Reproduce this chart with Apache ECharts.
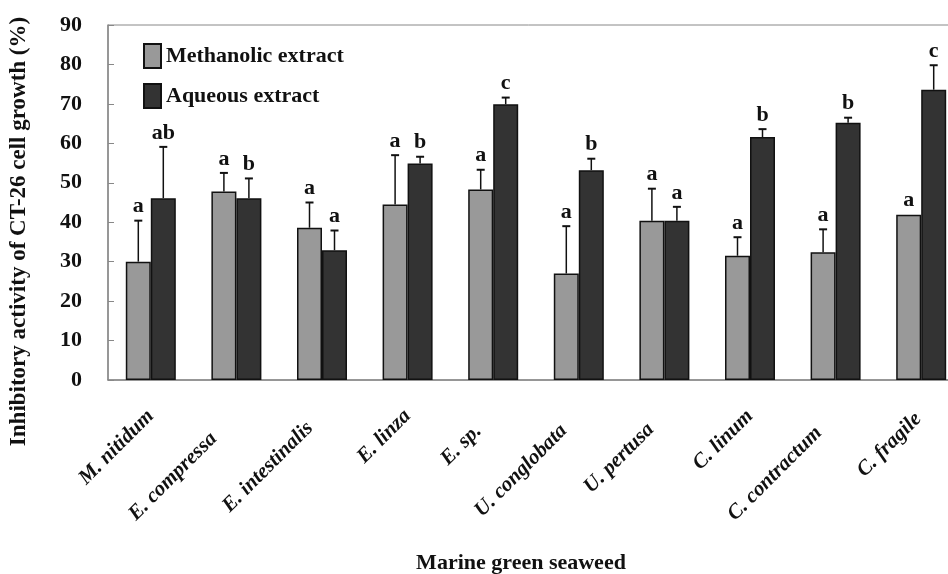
<!DOCTYPE html>
<html>
<head>
<meta charset="utf-8">
<script src="https://cdn.jsdelivr.net/npm/echarts@6/dist/echarts.min.js"></script>
<style>
  html, body { margin: 0; padding: 0; background: #fff; }
  #chart { width: 948px; height: 574px; }
</style>
</head>
<body>
<div id="chart"></div>
<script>
// seaweed species on the x axis
const categories = ["M. nitidum", "E. compressa", "E. intestinalis", "E. linza", "E. sp.",
    "U. conglobata", "U. pertusa", "C. linum", "C. contractum", "C. fragile"];
// inhibitory activity (%) and upper error bars
const methanolic = [30.0, 47.8, 38.6, 44.5, 48.3, 27.0, 40.4, 31.5, 32.4, 41.9];
const methanolicErr = [10.4, 4.7, 6.4, 12.5, 5.0, 12.0, 8.1, 4.7, 5.8, 0];
const aqueous = [46.1, 46.1, 32.9, 54.9, 69.9, 53.2, 40.4, 61.6, 65.2, 73.6];
const aqueousErr = [13.0, 5.0, 5.0, 1.7, 1.7, 2.9, 3.5, 2.0, 1.3, 6.2];
// significance letters
const methanolicLetters = ["a", "a", "a", "a", "a", "a", "a", "a", "a", "a"];
const aqueousLetters = ["ab", "b", "a", "b", "c", "b", "a", "b", "b", "c"];
const yTicks = [0, 10, 20, 30, 40, 50, 60, 70, 80, 90];

// label stagger: [shift along text, shift across text]
const labelShift = [[0, 4], [32, 18], [17, 18], [0, 0], [21, 4], [21, 14], [19, 12], [0, 0], [24, 16], [4, 0]];

const serif = "'Liberation Serif', 'Times New Roman', serif";
const barW = 25;
const color = ["#999999", "#333333"];

function errorSeries(name, values, errs, letters, side) {
    return {
        type: "custom",
        name: name + " err",
        z: 5,
        data: values.map((v, i) => [i, v, errs[i]]),
        renderItem: function(params, api) {
            const i = api.value(0), v = api.value(1), e = api.value(2);
            const base = api.coord([i, v]);
            const top = api.coord([i, v + e]);
            const x = base[0] + side * barW / 2;
            const children = [];
            if (e > 0) {
                children.push({ type: "line", shape: { x1: x, y1: base[1], x2: x, y2: top[1] },
                    style: { stroke: "#111", lineWidth: 1.5 } });
                children.push({ type: "line", shape: { x1: x - 4, y1: top[1], x2: x + 4, y2: top[1] },
                    style: { stroke: "#111", lineWidth: 2 } });
            }
            children.push({ type: "text", x: x, y: top[1] - 3,
                style: { text: letters[params.dataIndex], fill: "#111", font: "bold 22px " + serif,
                    align: "center", verticalAlign: "bottom" } });
            return { type: "group", children: children };
        }
    };
}

let chart = echarts.init(document.getElementById("chart"));
let options = {
    animation: false,
    color: color,
    textStyle: { fontFamily: serif },
    legend: {
        data: ["Methanolic extract", "Aqueous extract"],
        orient: "vertical",
        left: 143,
        top: 43,
        padding: 0,
        icon: "rect",
        itemWidth: 17,
        itemHeight: 24,
        itemGap: 14,
        textStyle: { fontSize: 22, fontWeight: "bold", color: "#111", fontFamily: serif }
    },
    grid: {
        left: 108,
        right: -16,
        top: 25,
        bottom: 194,
        outerBoundsMode: "none",
        containLabel: false,
        show: true,
        borderColor: "#888",
        borderWidth: 1
    },
    xAxis: {
        type: "category",
        data: categories.map((c, i) => ({
            value: c,
            textStyle: { padding: [2 * labelShift[i][1], labelShift[i][0], 0, 0] }
        })),
        name: "Marine green seaweed",
        nameLocation: "middle",
        nameGap: 172,
        nameTextStyle: { fontSize: 22, fontWeight: "bold", color: "#111", fontFamily: serif, padding: [0, 30, 0, 0] },
        axisLine: { lineStyle: { color: "#888", width: 1.5 } },
        axisTick: { inside: true, length: 8, lineStyle: { color: "#888" } },
        axisLabel: {
            interval: 0,
            rotate: 45,
            margin: 33,
            fontSize: 21,
            fontWeight: "bold",
            fontStyle: "italic",
            color: "#111",
            fontFamily: serif
        }
    },
    yAxis: {
        type: "value",
        min: yTicks[0],
        max: yTicks[yTicks.length - 1],
        interval: 10,
        name: "Inhibitory activity of CT-26 cell growth (%)",
        nameLocation: "middle",
        nameGap: 77,
        nameTextStyle: { fontSize: 23, fontWeight: "bold", color: "#111", fontFamily: serif, padding: [0, 58, 0, 0] },
        axisLine: { show: true, lineStyle: { color: "#888", width: 1.5 } },
        axisTick: { show: true, inside: true, length: 6, lineStyle: { color: "#888" } },
        axisLabel: { margin: 26, fontSize: 22, fontWeight: "bold", color: "#111", fontFamily: serif },
        splitLine: { show: false }
    },
    series: [
        {
            name: "Methanolic extract",
            type: "bar",
            data: methanolic,
            barWidth: barW,
            barGap: "0%",
            itemStyle: { color: color[0], borderColor: "#111", borderWidth: 1.5 }
        },
        {
            name: "Aqueous extract",
            type: "bar",
            data: aqueous,
            barWidth: barW,
            barGap: "0%",
            itemStyle: { color: color[1], borderColor: "#111", borderWidth: 1.5 }
        },
        errorSeries("Methanolic extract", methanolic, methanolicErr, methanolicLetters, -1),
        errorSeries("Aqueous extract", aqueous, aqueousErr, aqueousLetters, 1)
    ]
};
chart.setOption(options);
</script>
</body>
</html>
